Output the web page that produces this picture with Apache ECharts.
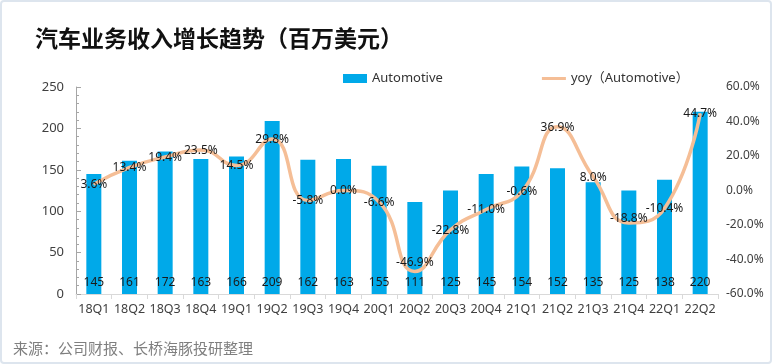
<!DOCTYPE html>
<html><head><meta charset="utf-8">
<script src="https://cdn.jsdelivr.net/npm/echarts@6/dist/echarts.min.js"></script>
<style>html,body{margin:0;padding:0;background:#fff}#c{width:772px;height:364px;box-sizing:border-box;border:2px solid #dde5ee;border-radius:4px}</style>
</head><body><div id="c"></div>
<script>
const categories = ['18Q1','18Q2','18Q3','18Q4','19Q1','19Q2','19Q3','19Q4','20Q1','20Q2','20Q3','20Q4','21Q1','21Q2','21Q3','21Q4','22Q1','22Q2'];
const revenue = [145,161,172,163,166,209,162,163,155,111,125,145,154,152,135,125,138,220];
const yoy = [3.6,13.4,19.4,23.5,14.5,29.8,-5.8,0.0,-6.6,-46.9,-22.8,-11.0,-0.6,36.9,8.0,-18.8,-10.4,44.7];
const leftTicks = {min:0,max:250,interval:50};
const rightTicks = {min:-60,max:60,interval:20};

// label distance tweaks (style only): centred on point by default
const labelDist = {9:2, 15:-2};
const yoyData = yoy.map((v,i)=> labelDist[i]!==undefined ? {value:v,label:{distance:labelDist[i]}} : v);

const font = '"Noto Sans","Noto Sans CJK SC",sans-serif';
const chart = echarts.init(document.getElementById('c'));
chart.setOption({
  animation:false,
  textStyle:{fontFamily:font},
  title:[
    {text:'汽车业务收入增长趋势（百万美元）',left:28,top:20,textStyle:{fontFamily:'"Noto Sans CJK SC",sans-serif',fontSize:23,fontWeight:'bold',color:'#111'}},
    {text:'来源：公司财报、长桥海豚投研整理',left:6,top:334,textStyle:{fontFamily:'"Noto Sans CJK SC",sans-serif',fontSize:15,fontWeight:'normal',color:'#7f7f7f'}}
  ],
  legend:{left:336,top:65,itemGap:99,itemWidth:24,itemHeight:9,textStyle:{fontSize:13,color:'#333'},
    data:[{name:'Automotive',icon:'rect'},{name:'yoy（Automotive）',icon:'path://M0,0 H24 V3 H0 Z'}]},
  grid:{left:74,right:52,top:85,bottom:68},
  xAxis:{type:'category',data:categories,
    axisLine:{lineStyle:{color:'#d9d9d9'}},axisTick:{show:true,lineStyle:{color:'#d9d9d9'}},
    axisLabel:{color:'#404040',fontSize:12.5,margin:9,interval:0}},
  yAxis:[
    {type:'value',min:leftTicks.min,max:leftTicks.max,interval:leftTicks.interval,splitLine:{show:false},
     axisLine:{show:true,lineStyle:{color:'#a6a6a6'}},axisTick:{show:true,inside:true,lineStyle:{color:'#a6a6a6'}},
     minorTick:{show:true,splitNumber:5,length:3,lineStyle:{color:'#a6a6a6'}},
     axisLabel:{color:'#404040',fontSize:13,margin:12}},
    {type:'value',min:rightTicks.min,max:rightTicks.max,interval:rightTicks.interval,splitLine:{show:false},
     axisLine:{show:false},axisTick:{show:false},
     axisLabel:{color:'#404040',fontSize:12,margin:8,formatter:v=>v.toFixed(1)+'%'}}
  ],
  series:[
    {name:'Automotive',type:'bar',data:revenue,barWidth:15,itemStyle:{color:'#00a9e9'},
     label:{show:true,position:'insideBottom',distance:5,color:'#1a1a1a',fontSize:12}},
    {name:'yoy（Automotive）',type:'line',yAxisIndex:1,data:yoyData,smooth:0.5,symbol:'circle',symbolSize:1,showSymbol:true,
     lineStyle:{color:'#f5be96',width:3.5},itemStyle:{color:'#f5be96'},
     label:{show:true,position:'top',distance:-7,color:'#1a1a1a',fontSize:12,formatter:p=>p.value.toFixed(1)+'%'},
     labelLayout:{hideOverlap:false}}
  ]
});
</script></body></html>
